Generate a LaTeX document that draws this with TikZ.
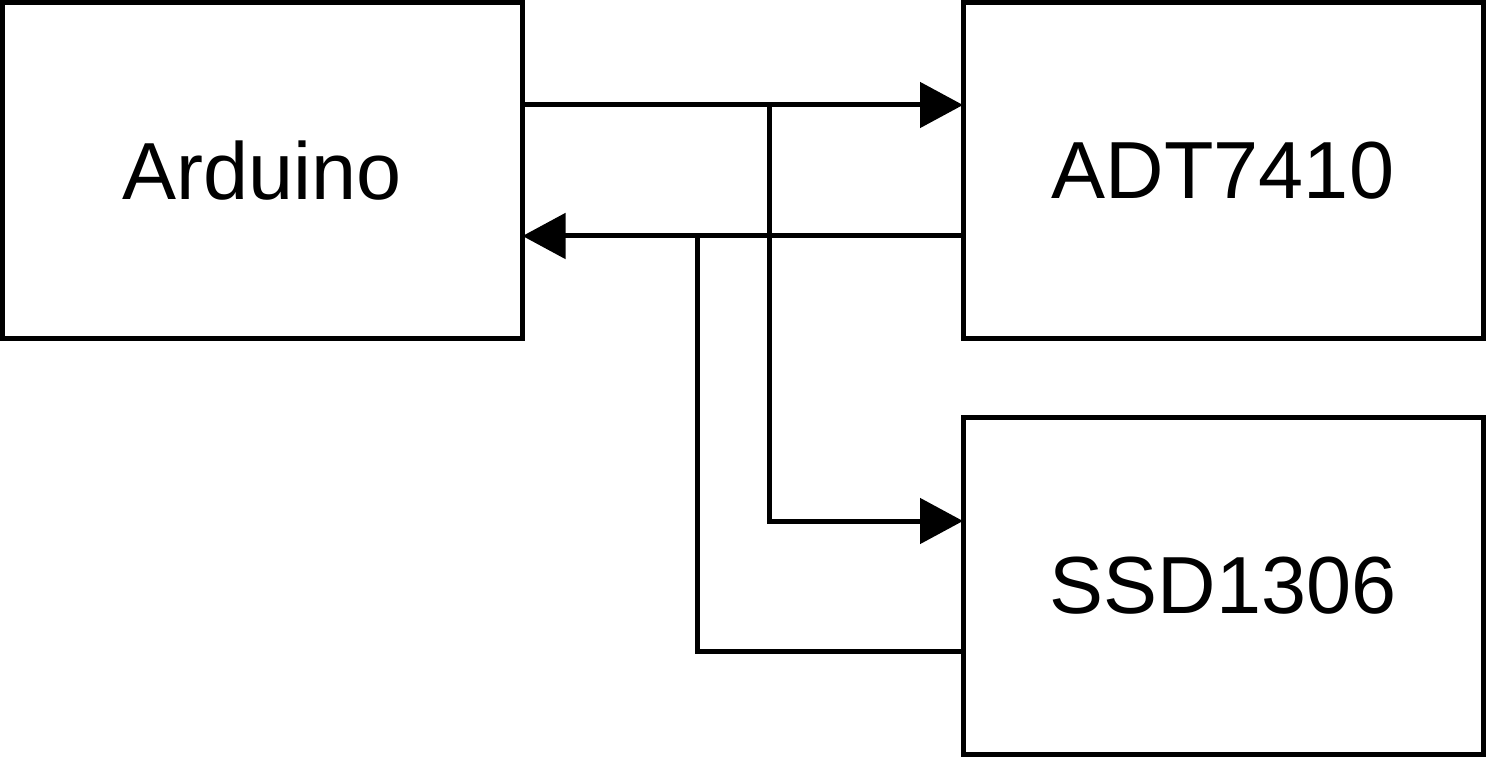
\documentclass[tikz,border=0pt]{standalone}
\usepackage{fontspec}
\setmainfont{Liberation Sans}
\usetikzlibrary{arrows.meta}
\begin{document}
\begin{tikzpicture}[x=0.5pt,y=-0.5pt,
  box/.style={draw,line width=2.5pt,minimum width=260pt,minimum height=168pt,inner sep=0pt,outer sep=0pt,font=\fontsize{40.5}{48}\selectfont},
  wire/.style={line width=2.5pt},
  arr/.style={wire,-{Triangle[length=21.5pt,width=22.5pt]}}]
\useasboundingbox (0,0) rectangle (1486,758);
\node[box] (ard) at (262.5,171) {Arduino};
\node[box] (adt) at (1223,171) {ADT7410};
\node[box] (ssd) at (1223,586) {SSD1306};
\coordinate (j1) at (769,105);
\coordinate (j2) at (697,236);
\draw[arr] (ard.east |- j1) -- (adt.west |- j1);
\draw[arr] (j1) -- (769,521) -- (ssd.west |- {0,521});
\draw[arr] (adt.west |- j2) -- (ard.east |- j2);
\draw[wire] (ssd.west |- {0,651}) -- (697,651) -- (j2);
\end{tikzpicture}
\end{document}
